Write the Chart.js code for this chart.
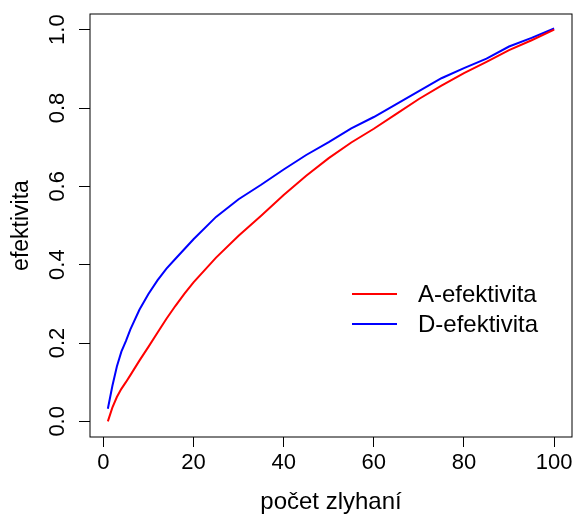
<!DOCTYPE html>
<html lang="sk">
<head>
<meta charset="UTF-8">
<title>Efektivita</title>
<script src="https://cdn.jsdelivr.net/npm/chart.js@4"></script>
<style>
  html, body { margin: 0; padding: 0; background: #fff; }
</style>
</head>
<body>
<canvas id="chart" width="576" height="517"></canvas>
<script>
// pocet zlyhani (x) a odcitane hodnoty efektivity
const failures = [1, 2, 3, 4, 5, 6, 8, 10, 12, 14, 16, 18, 20, 25, 30, 35, 40, 45, 50, 55, 60, 65, 70, 75, 80, 85, 90, 95, 100];
const aEff = [0.0, 0.035, 0.062, 0.083, 0.10, 0.118, 0.155, 0.19, 0.226, 0.262, 0.295, 0.326, 0.355, 0.418, 0.474, 0.525, 0.578, 0.627, 0.672, 0.712, 0.747, 0.785, 0.823, 0.857, 0.889, 0.918, 0.948, 0.973, 1.0];
const dEff = [0.032, 0.09, 0.14, 0.178, 0.205, 0.235, 0.285, 0.325, 0.36, 0.39, 0.415, 0.44, 0.465, 0.522, 0.567, 0.604, 0.643, 0.68, 0.713, 0.748, 0.777, 0.81, 0.843, 0.876, 0.902, 0.926, 0.957, 0.979, 1.003];
const seriesNames = ['A-efektivita', 'D-efektivita'];
const seriesColors = ['#ff0000', '#0000ff'];
const xTicks = [0, 20, 40, 60, 80, 100];
const yTicks = [0, 0.2, 0.4, 0.6, 0.8, 1.0];

const FONT = "'Liberation Sans', Arial, sans-serif";

function toPoints(ys) {
    return failures.map((x, i) => ({ x: x, y: ys[i] }));
}

// ramik okolo grafu (ako box() v R)
const boxPlugin = {
    id: 'boxPlugin',
    afterDraw(chart) {
        const a = chart.chartArea;
        const ctx = chart.ctx;
        ctx.save();
        ctx.strokeStyle = '#000';
        ctx.lineWidth = 1;
        ctx.strokeRect(a.left, a.top, a.right - a.left, a.bottom - a.top);
        ctx.restore();
    }
};

// legenda vo vnutri grafu
const legendPlugin = {
    id: 'legendPlugin',
    afterDraw(chart) {
        const a = chart.chartArea;
        const ctx = chart.ctx;
        ctx.save();
        ctx.font = '24px ' + FONT;
        ctx.textBaseline = 'middle';
        ctx.fillStyle = '#000';
        chart.data.datasets.forEach((ds, i) => {
            const y = a.top + 280 + i * 30;
            ctx.strokeStyle = ds.borderColor;
            ctx.lineWidth = 2;
            ctx.beginPath();
            ctx.moveTo(a.left + 262, y);
            ctx.lineTo(a.left + 307, y);
            ctx.stroke();
            ctx.fillText(ds.label, a.left + 328, y + 1);
        });
        ctx.restore();
    }
};

const chart = new Chart(document.getElementById('chart'), {
    type: 'line',
    data: {
        datasets: [
            {
                label: seriesNames[0],
                data: toPoints(aEff),
                borderColor: seriesColors[0],
                borderWidth: 2,
                pointRadius: 0,
                tension: 0,
                fill: false
            },
            {
                label: seriesNames[1],
                data: toPoints(dEff),
                borderColor: seriesColors[1],
                borderWidth: 2,
                pointRadius: 0,
                tension: 0,
                fill: false
            }
        ]
    },
    options: {
        responsive: false,
        animation: false,
        devicePixelRatio: 1,
        layout: { padding: { top: 14, right: 4, left: 0, bottom: 0 } },
        plugins: {
            legend: { display: false },
            tooltip: { enabled: false }
        },
        scales: {
            x: {
                type: 'linear',
                min: -2.96,
                max: 103.96,
                afterBuildTicks: s => { s.ticks = xTicks.map(v => ({ value: v })); },
                afterFit: s => { s.height = 80; s.paddingLeft = 0; s.paddingRight = 0; },
                grid: { drawOnChartArea: false, drawTicks: true, tickLength: 10, tickColor: '#000', tickWidth: 1 },
                border: { display: false },
                ticks: {
                    padding: 3,
                    color: '#000',
                    font: { family: FONT, size: 22 },
                    maxRotation: 0,
                    autoSkip: false,
                    callback: v => String(v)
                },
                title: {
                    display: true,
                    text: 'počet zlyhaní',
                    color: '#000',
                    font: { family: FONT, size: 24 },
                    padding: 0
                }
            },
            y: {
                type: 'linear',
                min: -0.04,
                max: 1.04,
                afterBuildTicks: s => { s.ticks = yTicks.map(v => ({ value: v })); },
                afterFit: s => { s.width = 90; s.paddingTop = 0; s.paddingBottom = 0; },
                grid: { drawOnChartArea: false, drawTicks: true, tickLength: 11, tickColor: '#000', tickWidth: 1 },
                border: { display: false },
                ticks: {
                    padding: 6,
                    color: '#000',
                    font: { family: FONT, size: 22 },
                    minRotation: 90,
                    maxRotation: 90,
                    crossAlign: 'center',
                    autoSkip: false,
                    callback: v => v.toFixed(1)
                },
                title: {
                    display: true,
                    text: 'efektivita',
                    color: '#000',
                    font: { family: FONT, size: 23 },
                    padding: { top: 8, bottom: 0 }
                }
            }
        }
    },
    plugins: [boxPlugin, legendPlugin]
});
</script>
</body>
</html>
